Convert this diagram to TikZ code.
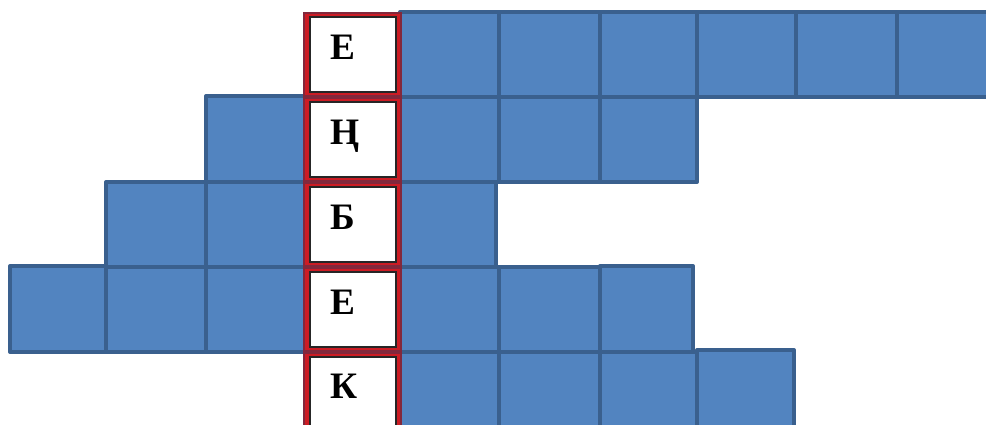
\documentclass[tikz,border=0pt]{standalone}
\usepackage{fontspec}
\setmainfont{Liberation Serif}
\definecolor{cellblue}{RGB}{82,132,192}
\definecolor{celledge}{RGB}{58,96,142}
\definecolor{framered}{RGB}{204,28,36}
\definecolor{framedark}{RGB}{130,40,60}
\tikzset{
  bluecell/.style={fill=cellblue, draw=celledge, line width=3pt, line join=round},
  redframe/.style={fill=framered, draw=framedark, line width=0.8pt},
  whitebox/.style={fill=white, draw=black!85, line width=0.8pt},
  letter/.style={anchor=base west, inner sep=0pt, font=\bfseries\fontsize{28}{30}\selectfont}
}
\begin{document}
\begin{tikzpicture}[x=0.75pt,y=-0.75pt]
\useasboundingbox (0,0) rectangle (986,425);
\clip (0,0) rectangle (986,425);
% blue cells: {left,right,top,bottom}
\foreach \l/\r/\t/\b in {
  400/499/12/97, 499/600/12/97, 600/697/12/97, 697/796/12/97, 796/897/12/97, 897/998/12/97,
  206/305/96/182, 400/499/97/182, 499/600/97/182, 600/697/97/182,
  106/206/182/267, 206/305/182/267, 400/496/182/267,
  10/106/266/352, 106/206/267/352, 206/305/267/352, 400/499/267/352, 499/600/267/352, 600/693/266/352,
  400/499/352/437, 499/600/352/437, 600/697/352/437, 697/794/350/437}
  {\path[bluecell] (\l,\t) rectangle (\r,\b);}
% red answer column
\foreach \t/\b in {12/97, 97/182, 182/267, 267/352, 352/437}
  {\path[redframe] (304,\t+1) rectangle (401,\b-1);
   \path[whitebox] (310,\t+5) rectangle (396,\b-5);}
\node[letter] (l1) at (330,59) {Е};
\node[letter] (l2) at (330,144) {Ң};
\node[letter] (l3) at (330,229) {Б};
\node[letter] (l4) at (330,314) {Е};
\node[letter] (l5) at (330,398) {К};
\end{tikzpicture}
\end{document}
